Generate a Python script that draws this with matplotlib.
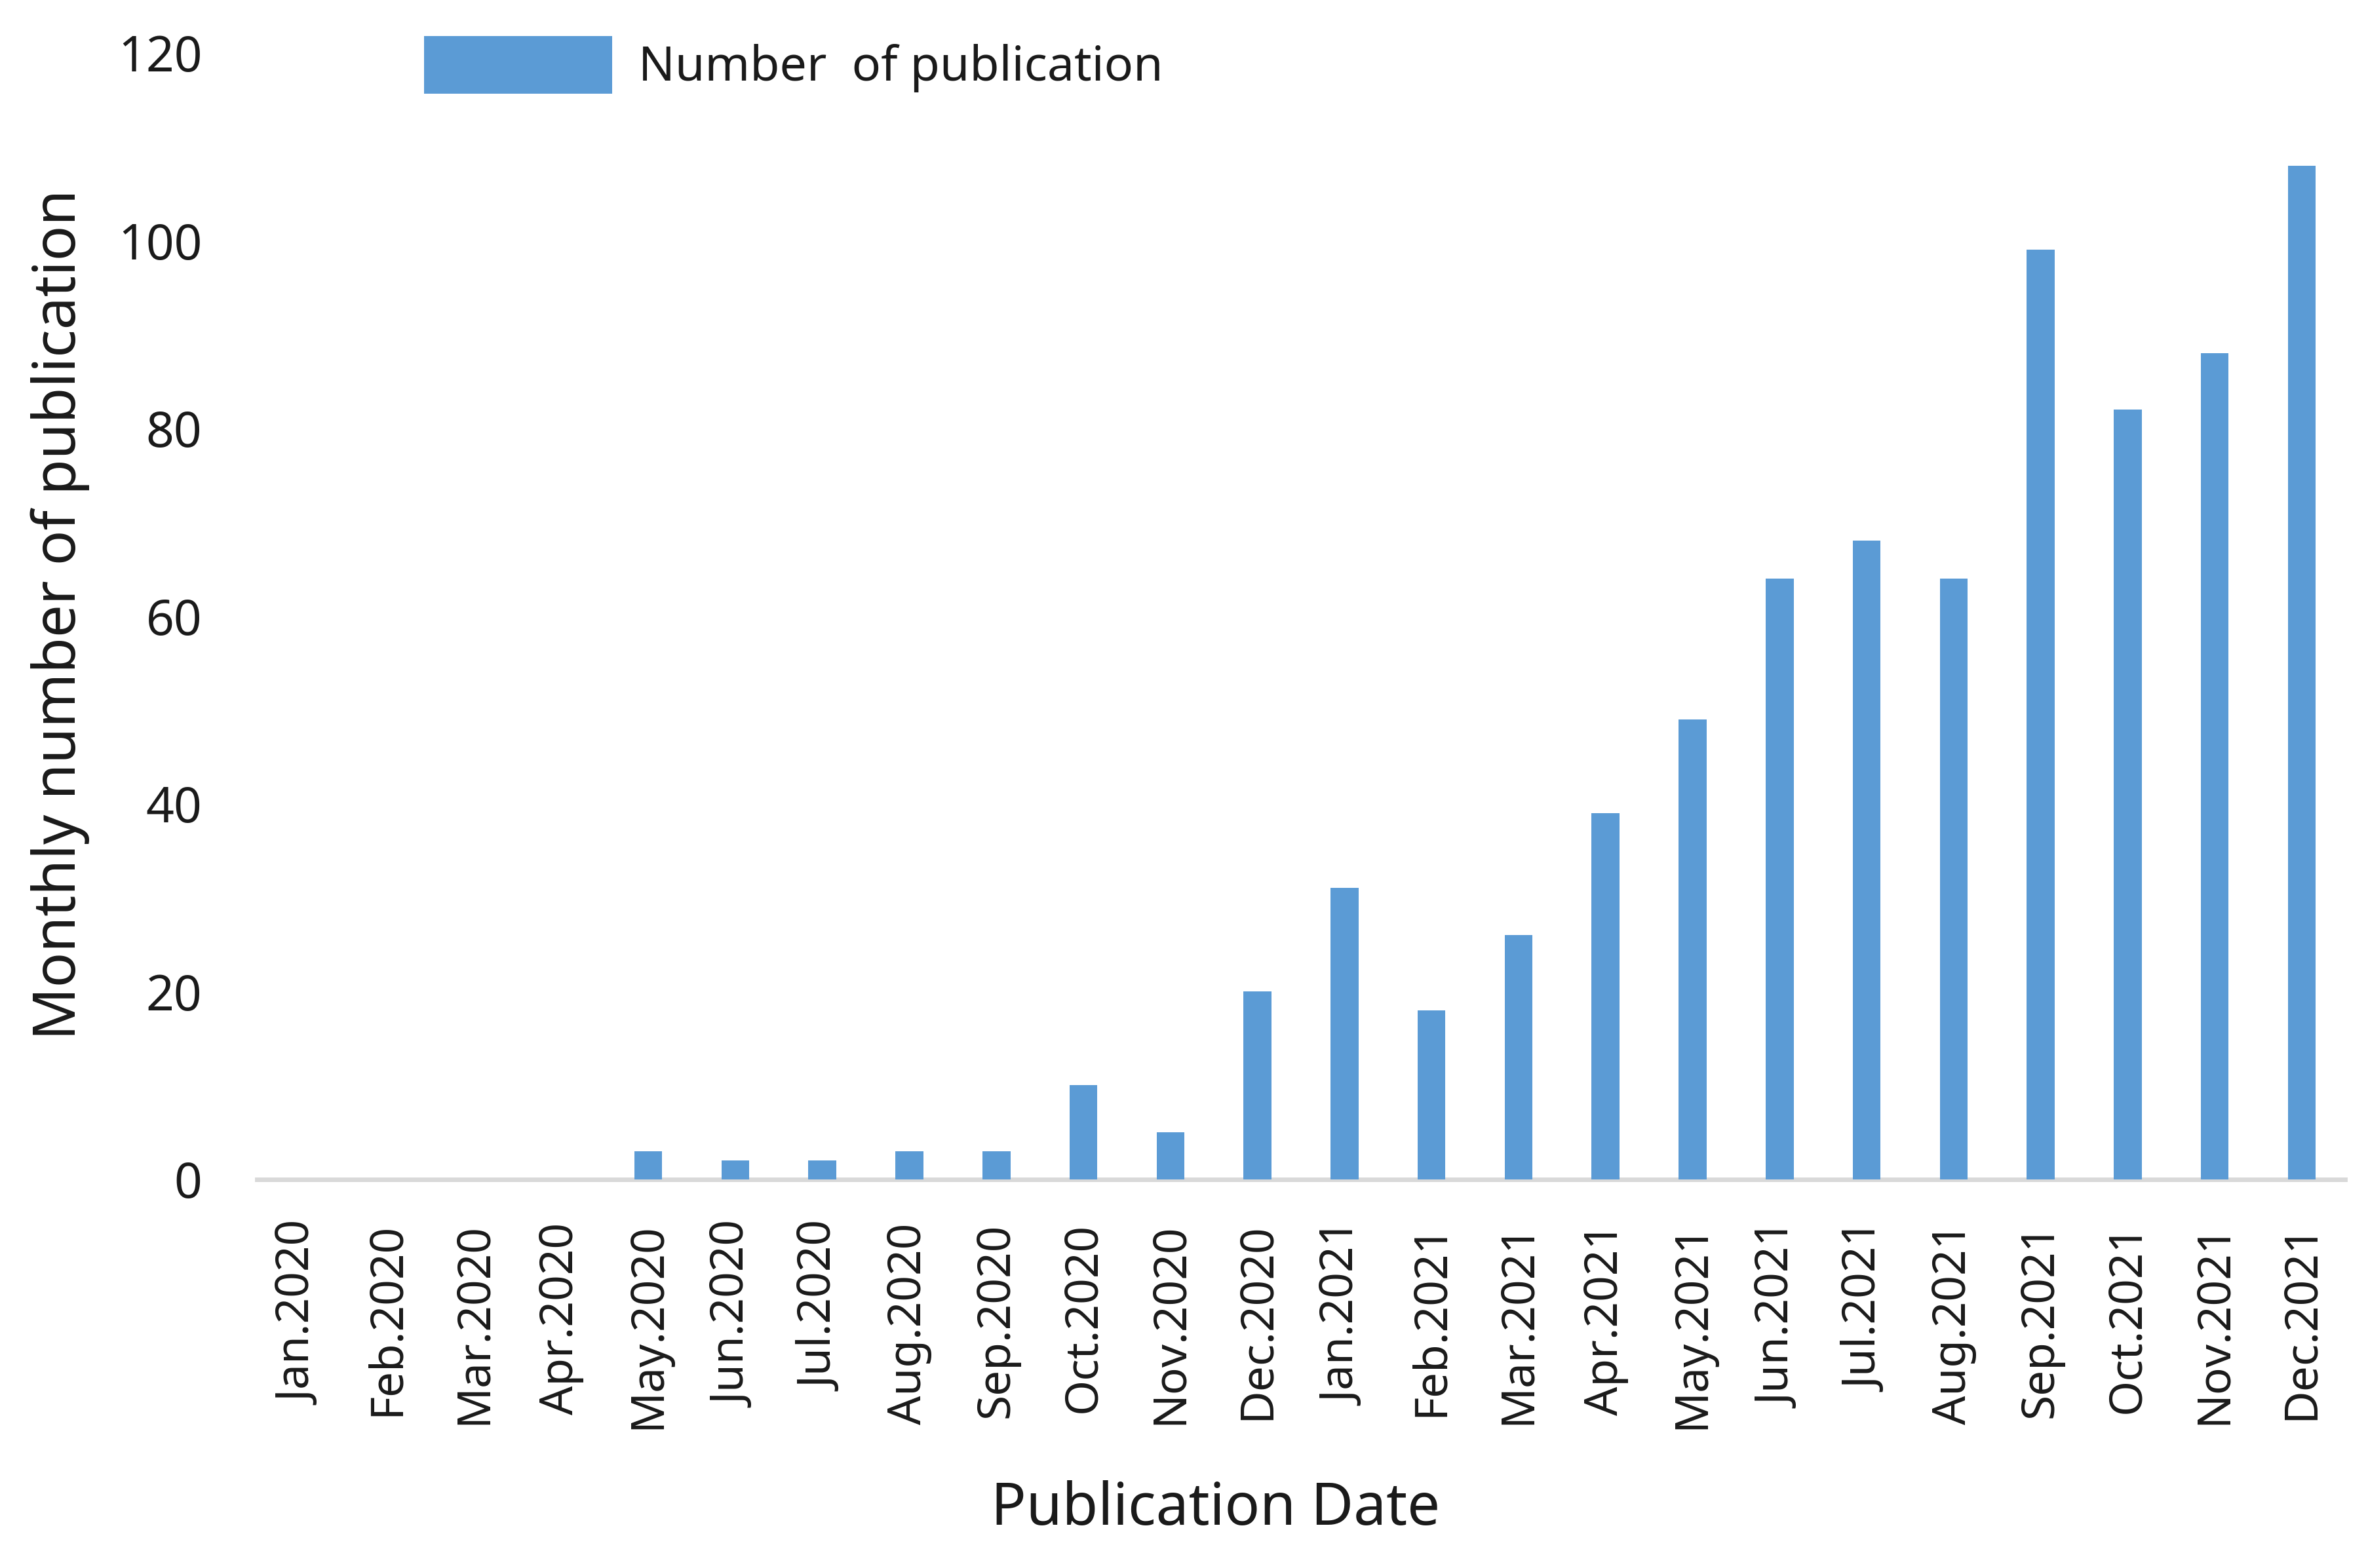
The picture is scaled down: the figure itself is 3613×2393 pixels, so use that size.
#!/usr/bin/env python

import numpy as np
import matplotlib
matplotlib.use("Agg")
import matplotlib.pyplot as plt

# monthly counts
months = ["Jan.2020", "Feb.2020", "Mar.2020", "Apr.2020", "May.2020", "Jun.2020",
          "Jul.2020", "Aug.2020", "Sep.2020", "Oct.2020", "Nov.2020", "Dec.2020",
          "Jan.2021", "Feb.2021", "Mar.2021", "Apr.2021", "May.2021", "Jun.2021",
          "Jul.2021", "Aug.2021", "Sep.2021", "Oct.2021", "Nov.2021", "Dec.2021"]
counts = [0, 0, 0, 0, 3, 2, 2, 3, 3, 10, 5, 20,
          31, 18, 26, 39, 49, 64, 68, 64, 99, 82, 88, 108]
yticks = [0, 20, 40, 60, 80, 100, 120]

plt.rcParams['font.family'] = ['Noto Sans', 'DejaVu Sans']
text_color = '#1a1a1a'
bar_color = '#5b9bd5'

fig = plt.figure(figsize=(18.065, 11.965), dpi=200)
ax = fig.add_axes([0.1084, 0.248, 0.882, 0.7183])

x = np.arange(len(months))
ax.bar(x, counts, width=0.32, color=bar_color, label="Number  of publication", zorder=3)

ax.set_xlim(-0.5, len(months) - 0.5)
ax.set_ylim(0, 120)
ax.set_yticks(yticks)
ax.set_yticklabels([str(v) for v in yticks], fontsize=27, color=text_color)
ax.set_xticks(x)
ax.set_xticklabels(months, rotation=90, fontsize=25, color=text_color)
ax.tick_params(axis='y', length=0, pad=30)
ax.tick_params(axis='x', length=0, pad=24)

for side in ['top', 'right', 'left']:
    ax.spines[side].set_visible(False)
ax.spines['bottom'].set_color('#d9d9d9')
ax.spines['bottom'].set_linewidth(2.5)

fig.text(0.0255, 0.608, "Monthly number of publication", rotation=90,
         ha='center', va='center', fontsize=32, color=text_color)
fig.text(0.5134, 0.0372, "Publication Date", ha='center', va='center',
         fontsize=32, color=text_color)

fig.legend(loc='center left', bbox_to_anchor=(0.179, 0.9586), frameon=False,
           fontsize=26.5, handlelength=3.9, handleheight=1.45, borderpad=0,
           borderaxespad=0, handletextpad=0.55, labelcolor=text_color)

fig.savefig("out.png", dpi=200, facecolor='white')
plt.close(fig)
